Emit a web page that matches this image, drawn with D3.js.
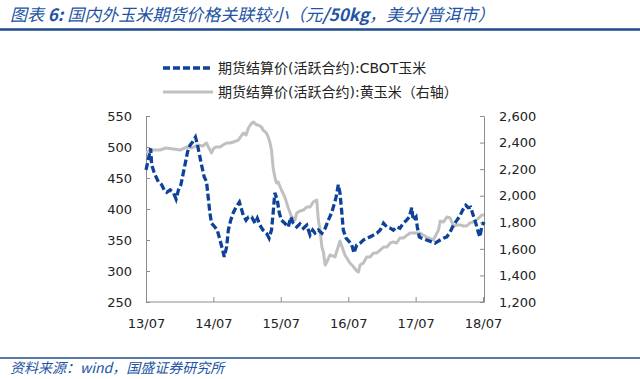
<!DOCTYPE html>
<html><head><meta charset="utf-8">
<script src="https://cdn.jsdelivr.net/npm/d3@7"></script>
<style>
html,body{margin:0;padding:0;background:#fff;}
svg{display:block;}
</style></head>
<body>
<svg id="chart" width="640" height="379"></svg>
<script>
// ---- data ----
const seriesNames = ["期货结算价(活跃合约):CBOT玉米", "期货结算价(活跃合约):黄玉米（右轴）"];
const xTickDates = ["2013-07-01","2014-07-01","2015-07-01","2016-07-01","2017-07-01","2018-07-01"];
const xTickLabels = ["13/07","14/07","15/07","16/07","17/07","18/07"];
const leftTicks = [250,300,350,400,450,500,550];
const rightTicks = [1200,1400,1600,1800,2000,2200,2400,2600];

const cbotDates = ["2013-07-01","2013-07-13","2013-07-26","2013-08-01","2013-08-13","2013-08-24","2013-09-06","2013-09-24","2013-10-07","2013-10-21","2013-11-09","2013-11-27","2013-12-11","2013-12-24","2014-01-06","2014-01-17","2014-01-30","2014-02-11","2014-02-25","2014-03-10","2014-03-26","2014-04-04","2014-04-15","2014-04-28","2014-05-12","2014-05-25","2014-06-03","2014-06-12","2014-06-21","2014-07-09","2014-07-22","2014-08-06","2014-08-20","2014-08-29","2014-09-11","2014-09-20","2014-10-03","2014-10-17","2014-11-01","2014-11-19","2014-11-28","2014-12-10","2014-12-25","2015-01-07","2015-01-25","2015-02-12","2015-02-24","2015-03-10","2015-03-27","2015-04-15","2015-04-29","2015-05-12","2015-05-21","2015-05-30","2015-06-12","2015-06-23","2015-07-05","2015-07-23","2015-08-11","2015-08-24","2015-09-07","2015-09-26","2015-10-13","2015-11-01","2015-11-19","2015-12-07","2015-12-21","2016-01-03","2016-01-21","2016-02-09","2016-02-27","2016-03-15","2016-04-02","2016-04-11","2016-04-26","2016-05-08","2016-05-17","2016-05-27","2016-06-04","2016-06-19","2016-07-07","2016-07-20","2016-08-01","2016-08-16","2016-09-03","2016-09-21","2016-10-09","2016-10-27","2016-11-15","2016-12-03","2016-12-21","2017-01-08","2017-01-26","2017-02-14","2017-03-02","2017-03-20","2017-04-07","2017-04-25","2017-05-13","2017-05-27","2017-06-10","2017-06-18","2017-07-03","2017-07-10","2017-07-21","2017-08-03","2017-08-30","2017-09-27","2017-10-14","2017-11-11","2017-11-29","2017-12-17","2018-01-04","2018-01-22","2018-02-10","2018-02-28","2018-03-12","2018-03-30","2018-04-12","2018-04-25","2018-05-09","2018-05-23","2018-06-05","2018-06-14","2018-06-24","2018-07-06"];
const cbotValues = [463,479,498,471,460,452,444,439,431,427,431,426,416,431,439,455,474,492,503,508,516,506,490,471,452,444,419,394,377,371,366,350,334,323,339,366,382,394,403,411,402,390,382,387,387,377,385,374,366,361,353,366,394,426,415,394,382,377,371,387,377,371,376,369,374,358,366,361,366,361,369,382,394,403,419,439,426,394,366,353,347,342,329,342,345,350,353,355,358,361,366,377,371,369,366,371,369,377,382,387,402,382,387,371,355,353,350,347,345,350,353,355,363,374,382,390,398,406,402,403,390,377,363,355,371,379];

const dceDates = ["2013-07-01","2013-08-08","2013-09-15","2013-10-17","2013-11-25","2014-01-02","2014-02-08","2014-03-06","2014-04-08","2014-05-05","2014-05-25","2014-06-07","2014-06-21","2014-07-04","2014-07-18","2014-08-06","2014-08-22","2014-09-11","2014-09-29","2014-10-17","2014-11-13","2014-12-10","2014-12-25","2015-01-07","2015-01-21","2015-02-03","2015-02-21","2015-03-01","2015-03-19","2015-03-27","2015-04-15","2015-04-24","2015-05-03","2015-05-12","2015-05-21","2015-05-30","2015-06-08","2015-06-17","2015-07-05","2015-07-23","2015-08-11","2015-08-29","2015-09-16","2015-09-26","2015-10-13","2015-11-01","2015-11-19","2015-12-07","2015-12-24","2016-01-12","2016-01-21","2016-01-30","2016-02-09","2016-02-17","2016-02-27","2016-03-07","2016-03-24","2016-04-20","2016-05-17","2016-06-13","2016-07-10","2016-07-26","2016-08-16","2016-08-25","2016-09-03","2016-09-21","2016-10-09","2016-10-27","2016-11-15","2016-12-03","2016-12-21","2017-01-08","2017-01-26","2017-02-14","2017-03-02","2017-03-20","2017-04-07","2017-04-25","2017-06-01","2017-06-18","2017-07-24","2017-08-30","2017-10-05","2017-11-02","2017-11-11","2017-11-29","2017-12-17","2018-01-04","2018-01-22","2018-02-10","2018-02-28","2018-03-16","2018-04-03","2018-04-21","2018-05-09","2018-05-27","2018-06-14","2018-06-24","2018-07-06"];
const dceValues = [2329,2344,2344,2359,2352,2344,2367,2359,2382,2374,2397,2359,2322,2359,2367,2367,2382,2397,2397,2404,2419,2472,2457,2510,2540,2555,2532,2532,2517,2495,2472,2442,2404,2344,2209,2141,2096,2103,2043,1990,1908,1840,1817,1870,1885,1892,1915,1915,1953,1968,1817,1742,1614,1576,1478,1501,1554,1539,1659,1554,1494,1471,1433,1426,1478,1494,1539,1539,1569,1569,1591,1614,1614,1644,1652,1644,1682,1682,1719,1719,1719,1689,1667,1742,1810,1802,1840,1832,1772,1780,1780,1772,1772,1795,1802,1817,1840,1855,1855];

// ---- build ----
const parse = d3.timeParse("%Y-%m-%d");
const cbot = cbotDates.map((d,i)=>({date:parse(d), v:cbotValues[i]}));
const dce = dceDates.map((d,i)=>({date:parse(d), v:dceValues[i]}));

const svg = d3.select("#chart");
const FONT = "'DejaVu Sans','Noto Sans CJK SC',sans-serif";
const titleBlue = "#2353A3";

// Title
const title = svg.append("text").attr("x",10).attr("y",21)
  .attr("font-family","'Noto Sans CJK SC',sans-serif").attr("font-size",17)
  .attr("font-style","italic").attr("fill",titleBlue);
[["图表 ",400],["6:",700],[" 国内外玉米期货价格关联较小（元",400],["/50kg",700],["，美分",400],["/",700],["普洱市）",400]]
  .forEach(([t,w])=>title.append("tspan").attr("font-weight",w).text(t));
svg.append("line").attr("x1",0).attr("x2",640).attr("y1",29.5).attr("y2",29.5)
  .attr("stroke","#1F4C8E").attr("stroke-width",2.5);

// Footer
svg.append("line").attr("x1",0).attr("x2",640).attr("y1",358).attr("y2",358)
  .attr("stroke","#1F4C8E").attr("stroke-width",1.5);
svg.append("text").attr("x",10).attr("y",373)
  .attr("font-family","'Noto Sans CJK SC',sans-serif").attr("font-size",14)
  .attr("font-style","italic").attr("fill",titleBlue)
  .text("资料来源：wind，国盛证券研究所");

// Scales
const x = d3.scaleTime().domain([parse("2013-07-01"), parse("2018-07-01")]).range([146,483]);
const yL = d3.scaleLinear().domain([250,550]).range([302,116]);
const yR = d3.scaleLinear().domain([1200,2600]).range([302,116]);

const axisColor = "#8c8c8c";
function styleAxis(g){
  g.selectAll("path,line").attr("stroke",axisColor).attr("stroke-width",1);
  g.selectAll("text").attr("fill","#222").attr("font-family",FONT).attr("font-size",13);
}
svg.append("g").attr("transform","translate(146,0)")
  .call(d3.axisLeft(yL).tickValues(leftTicks).tickSizeInner(-4).tickSizeOuter(0).tickPadding(14))
  .call(styleAxis);
svg.append("g").attr("transform","translate(484,0)")
  .call(d3.axisRight(yR).tickValues(rightTicks).tickFormat(d3.format(",")).tickSizeInner(-4).tickSizeOuter(0).tickPadding(15))
  .call(styleAxis);
const xTicks = xTickDates.map(parse);
svg.append("g").attr("transform","translate(0,302)")
  .call(d3.axisBottom(x).tickValues(xTicks).tickFormat((d,i)=>xTickLabels[i]).tickSizeInner(-5).tickSizeOuter(0).tickPadding(17))
  .call(styleAxis)
  .select(".domain").attr("d","M146,0H484");

// Lines
const lineL = d3.line().x(d=>x(d.date)).y(d=>yL(d.v));
const lineR = d3.line().x(d=>x(d.date)).y(d=>yR(d.v));
const grayC = "#C0C0C0", blueC = "#0E429A";
svg.append("path").datum(dce).attr("d",lineR).attr("fill","none")
  .attr("stroke",grayC).attr("stroke-width",3).attr("stroke-linejoin","round");
svg.append("path").datum(cbot).attr("d",lineL).attr("fill","none")
  .attr("stroke",blueC).attr("stroke-width",3.3).attr("stroke-dasharray","7,3");

// Legend
const leg = svg.append("g");
const legItems = [{y:68, color:blueC, dash:"7,3", w:3.3},{y:92, color:grayC, dash:null, w:3}];
legItems.forEach((it,i)=>{
  leg.append("line").attr("x1",163).attr("x2",213).attr("y1",it.y).attr("y2",it.y)
    .attr("stroke",it.color).attr("stroke-width",it.w).attr("stroke-dasharray",it.dash);
  leg.append("text").attr("x",218).attr("y",it.y+5)
    .attr("font-family",FONT).attr("font-size",14).attr("fill","#222")
    .text(seriesNames[i]);
});
</script>
</body></html>
